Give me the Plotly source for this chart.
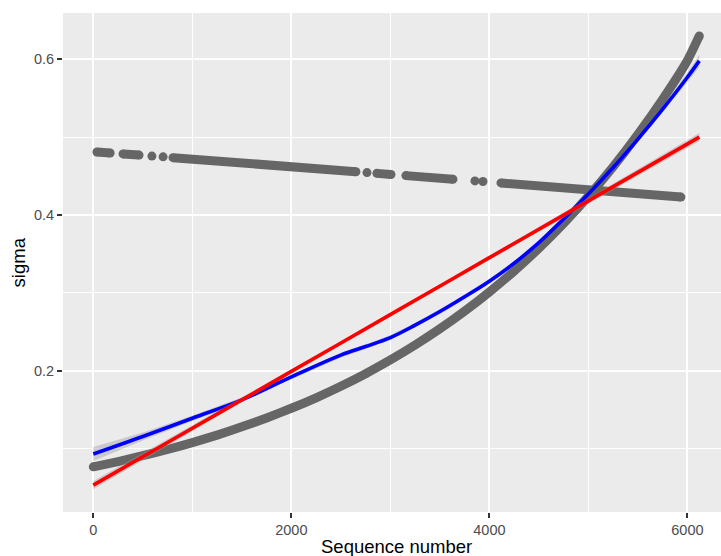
import plotly.graph_objects as go

# ---------------- data ----------------
# lower (increasing) point series
seq_lower = [0, 250, 500, 750, 1000, 1250, 1500, 1750, 2000, 2250, 2500, 2750, 3000,
             3250, 3500, 3750, 4000, 4250, 4500, 4750, 5000, 5250, 5500, 5750, 6000, 6120]
sigma_lower = [0.0765, 0.0833, 0.0908, 0.0988, 0.1076, 0.1173, 0.1279, 0.1393, 0.1517,
               0.1652, 0.1800, 0.1962, 0.2138, 0.2330, 0.2538, 0.2765, 0.3012, 0.3280,
               0.3573, 0.3893, 0.4240, 0.4620, 0.5035, 0.5487, 0.5985, 0.6300]

# upper (slowly decreasing) point series, with gaps (None)
seq_upper = [37, 170, None, 300, 462, None, 592, None, 705, None, 805, 2652, None,
             2764, None, 2864, 3006, None, 3157, 3632, None, 3854, None, 3935, None,
             4117, 5934]
sigma_upper = [0.4810, 0.4797, None, 0.4785, 0.4770, None, 0.4757, None, 0.4747, None,
               0.4737, 0.4556, None, 0.4545, None, 0.4535, 0.4521, None, 0.4506, 0.4460,
               None, 0.4438, None, 0.4430, None, 0.4412, 0.4230]

# loess fit (blue) with standard-error half width
seq_loess = [0, 500, 1000, 1500, 2000, 2500, 2750, 3000, 3250, 3500, 3750, 4000, 4250,
             4500, 4750, 5000, 5250, 5500, 5750, 6000, 6120]
sigma_loess = [0.0930, 0.1155, 0.1390, 0.1625, 0.1920, 0.2200, 0.2310, 0.2425, 0.2585,
               0.2760, 0.2950, 0.3150, 0.3380, 0.3645, 0.3950, 0.4270, 0.4610, 0.4975,
               0.5360, 0.5770, 0.5980]
se_loess = [0.0090, 0.0050, 0.0035, 0.0030, 0.0030, 0.0030, 0.0030, 0.0030, 0.0030,
            0.0030, 0.0030, 0.0030, 0.0030, 0.0030, 0.0030, 0.0030, 0.0030, 0.0035,
            0.0040, 0.0060, 0.0080]

# linear fit (red) with standard-error half width
seq_lm = [0, 1000, 2000, 3060, 4000, 5000, 6120]
sigma_lm = [0.0530, 0.1260, 0.1991, 0.2765, 0.3452, 0.4182, 0.5000]
se_lm = [0.0053, 0.0038, 0.0025, 0.0019, 0.0025, 0.0036, 0.0053]

x_ticks = [0, 2000, 4000, 6000]
x_minor = [1000, 3000, 5000]
y_ticks = [0.2, 0.4, 0.6]
y_minor = [0.1, 0.3, 0.5]
y_ticktext = ["0.2", "0.4", "0.6"]

# ---------------- figure ----------------
FONT = "Liberation Sans, Arial, sans-serif"
POINT = "#666666"
BAND = "rgba(153,153,153,0.4)"
PW = 9  # point diameter / band thickness

fig = go.Figure()


def add_points(xs, ys):
    # dense runs of points: thick line + round ends
    fig.add_trace(go.Scatter(x=xs, y=ys, mode="lines", connectgaps=False,
                             line=dict(color=POINT, width=PW, shape="spline",
                                       smoothing=0.5),
                             hoverinfo="skip"))
    ex, ey = [], []
    for i, (x, y) in enumerate(zip(xs, ys)):
        if x is None:
            continue
        prev_gap = i == 0 or xs[i - 1] is None
        next_gap = i == len(xs) - 1 or xs[i + 1] is None
        if prev_gap or next_gap:
            ex.append(x)
            ey.append(y)
    fig.add_trace(go.Scatter(x=ex, y=ey, mode="markers",
                             marker=dict(color=POINT, size=PW, line=dict(width=0)),
                             hoverinfo="skip"))


add_points(seq_lower, sigma_lower)
add_points(seq_upper, sigma_upper)


def add_smooth(xs, ys, se, color):
    lo = [y - s for y, s in zip(ys, se)]
    hi = [y + s for y, s in zip(ys, se)]
    fig.add_trace(go.Scatter(x=xs + xs[::-1], y=hi + lo[::-1], fill="toself",
                             fillcolor=BAND, line=dict(width=0), mode="lines",
                             hoverinfo="skip"))
    fig.add_trace(go.Scatter(x=xs, y=ys, mode="lines",
                             line=dict(color=color, width=3.6, shape="spline",
                                       smoothing=1.0),
                             hoverinfo="skip"))


add_smooth(seq_loess, sigma_loess, se_loess, "#0000FF")
add_smooth(seq_lm, sigma_lm, se_lm, "#FF0000")

axis_common = dict(
    showgrid=True, gridcolor="white", gridwidth=1.8,
    zeroline=False, showline=False,
    ticks="outside", ticklen=5, tickwidth=1.5, tickcolor="#333333",
    tickfont=dict(family=FONT, size=14.5, color="#4D4D4D"),
)

fig.update_layout(
    width=721, height=556,
    margin=dict(l=63, r=0, t=13, b=44),
    paper_bgcolor="white", plot_bgcolor="#EBEBEB",
    showlegend=False,
    xaxis=dict(range=[-306, 6339], tickmode="array", tickvals=x_ticks,
               minor=dict(tickmode="array", tickvals=x_minor, showgrid=True,
                          gridcolor="white", gridwidth=0.9, ticks=""),
               **axis_common),
    yaxis=dict(range=[0.0185, 0.6595], tickmode="array", tickvals=y_ticks,
               ticktext=y_ticktext,
               minor=dict(tickmode="array", tickvals=y_minor, showgrid=True,
                          gridcolor="white", gridwidth=0.9, ticks=""),
               **axis_common),
    annotations=[
        dict(text="Sequence number", xref="x", yref="paper", x=3060, y=-0.069,
             xanchor="center", yanchor="middle", showarrow=False,
             font=dict(family=FONT, size=18.5, color="black")),
        dict(text="sigma", xref="paper", yref="paper", x=-0.067, y=0.5,
             xanchor="center", yanchor="middle", textangle=-90, showarrow=False,
             font=dict(family=FONT, size=18.5, color="black")),
    ],
)

fig.write_html("out.html")
